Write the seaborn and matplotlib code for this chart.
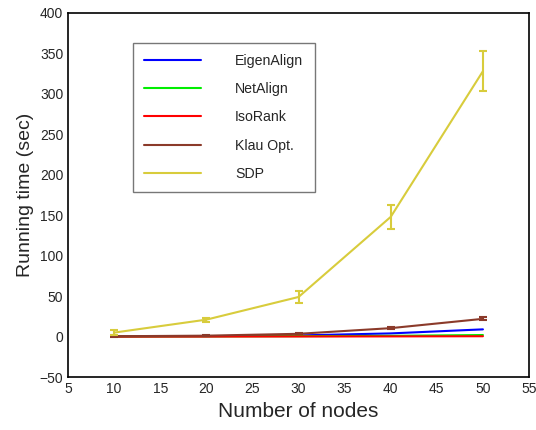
import numpy as np
import pandas as pd
import matplotlib
matplotlib.use("Agg")
import matplotlib.pyplot as plt
import seaborn as sns

nodes = [10, 20, 30, 40, 50]
methods = ["EigenAlign", "NetAlign", "IsoRank", "Klau Opt.", "SDP"]
eigenalign = [0.3, 0.6, 1.5, 4.0, 9.0]
netalign = [0.1, 0.3, 0.6, 1.0, 2.0]
isorank = [0.05, 0.1, 0.2, 0.3, 0.5]
klau = [0.5, 1.2, 3.5, 10.5, 22.0]
sdp = [5.0, 21.0, 49.0, 148.0, 328.0]
klau_err = [0.5, 0.6, 0.8, 1.5, 1.8]
sdp_err = [3.0, 2.5, 7.0, 15.0, 25.0]

colors = ["#0000ff", "#00ee00", "#ff0000", "#8b3a2a", "#d8cc3c"]

df = pd.DataFrame({
    "nodes": nodes * 5,
    "time": eigenalign + netalign + isorank + klau + sdp,
    "method": [m for m in methods for _ in nodes],
})

sns.set_style("white")
plt.rcParams["font.family"] = ["Liberation Sans", "DejaVu Sans"]

fig, ax = plt.subplots(figsize=(5.36, 4.3), dpi=100)
sns.lineplot(data=df, x="nodes", y="time", hue="method", hue_order=methods,
             palette=colors, linewidth=1.5, ax=ax)

# error bars for the two slow methods
ax.errorbar(nodes, klau, yerr=klau_err, fmt="none", ecolor=colors[3],
            elinewidth=1.5, capsize=3, capthick=1.5)
ax.errorbar(nodes, sdp, yerr=sdp_err, fmt="none", ecolor=colors[4],
            elinewidth=1.5, capsize=3, capthick=1.5)

ax.set_xlim(5, 55)
ax.set_ylim(-50, 400)
ax.set_xticks(range(5, 56, 5))
ax.set_yticks(range(-50, 401, 50))
ax.set_yticklabels([str(v).replace("-", "\u2212") for v in range(-50, 401, 50)])
ax.tick_params(direction="in", length=4, labelsize=10, top=False, right=False)
for s in ax.spines.values():
    s.set_color("black")
    s.set_linewidth(1.2)
ax.set_xlabel("Number of nodes", fontsize=15)
ax.set_ylabel("Running time (sec)", fontsize=14)

leg = ax.legend(loc="upper left", bbox_to_anchor=(0.141, 0.918), fontsize=10.2,
                handlelength=4.0, handletextpad=2.4, labelspacing=1.0,
                borderpad=0.8, borderaxespad=0, fancybox=False, frameon=True)
leg.get_frame().set_edgecolor("#555555")
leg.get_frame().set_linewidth(1.0)

plt.subplots_adjust(left=0.127, right=0.987, top=0.97, bottom=0.123)
fig.savefig("out.png", dpi=100)
